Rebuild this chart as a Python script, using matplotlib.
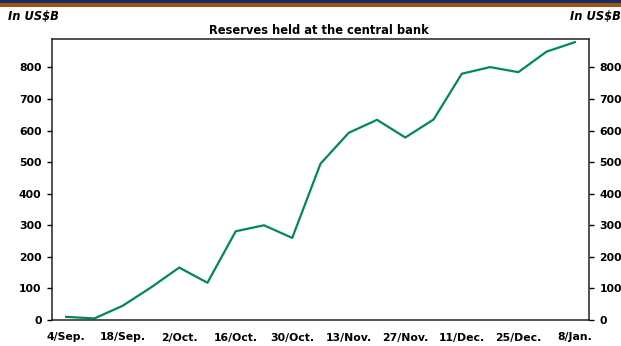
import matplotlib
matplotlib.use("Agg")
import matplotlib.pyplot as plt
from matplotlib.patches import Rectangle

plt.rcParams["font.family"] = ["DejaVu Sans"]

# weekly reserves, US$ billions
weeks = list(range(19))
reserves = [10, 5, 45, 103, 166, 118, 281, 300, 260, 495, 593,
            634, 578, 635, 780, 801, 785, 850, 880]
tick_pos = list(range(0, 19, 2))
tick_labels = ["4/Sep.", "18/Sep.", "2/Oct.", "16/Oct.", "30/Oct.",
               "13/Nov.", "27/Nov.", "11/Dec.", "25/Dec.", "8/Jan."]
y_ticks = [0, 100, 200, 300, 400, 500, 600, 700, 800]

W, H = 621, 346
fig = plt.figure(figsize=(W / 100, H / 100), dpi=100)

# header stripes
fig.add_artist(Rectangle((0, 1 - 3 / H), 1, 3 / H, transform=fig.transFigure,
                         color="#1c2b5e", lw=0))
fig.add_artist(Rectangle((0, 1 - 7 / H), 1, 4 / H, transform=fig.transFigure,
                         color="#9a5618", lw=0))

ax = fig.add_axes([52 / W, 26 / H, (589 - 52) / W, (320 - 39) / H])
ax.plot(weeks, reserves, color="#00885a", lw=1.6)
ax.set_xlim(-0.5, 18.5)
ax.set_ylim(0, 890)

ax.set_xticks(tick_pos)
ax.set_xticklabels(tick_labels)
ax.set_yticks(y_ticks)
ax.tick_params(axis="x", length=0, pad=9)
ax.tick_params(axis="y", length=3.5, width=1, pad=4, right=True, labelright=True)
for lbl in ax.get_xticklabels() + ax.get_yticklabels():
    lbl.set_fontweight("bold")
    lbl.set_fontsize(7.8)
for t in ax.yaxis.get_major_ticks():
    t.label2.set_fontweight("bold")
    t.label2.set_fontsize(7.8)
for s in ax.spines.values():
    s.set_linewidth(1.1)
    s.set_color("#222222")

fig.text(319 / W, 1 - 31 / H, "Reserves held at the central bank",
         ha="center", va="center", fontsize=8.3, fontweight="bold")
fig.text(8 / W, 1 - 17 / H, "In US$B", ha="left", va="center",
         fontsize=8.3, fontweight="bold", style="italic")
fig.text(621 / W, 1 - 17 / H, "In US$B", ha="right", va="center",
         fontsize=8.3, fontweight="bold", style="italic")

fig.savefig("out.png", dpi=100)
